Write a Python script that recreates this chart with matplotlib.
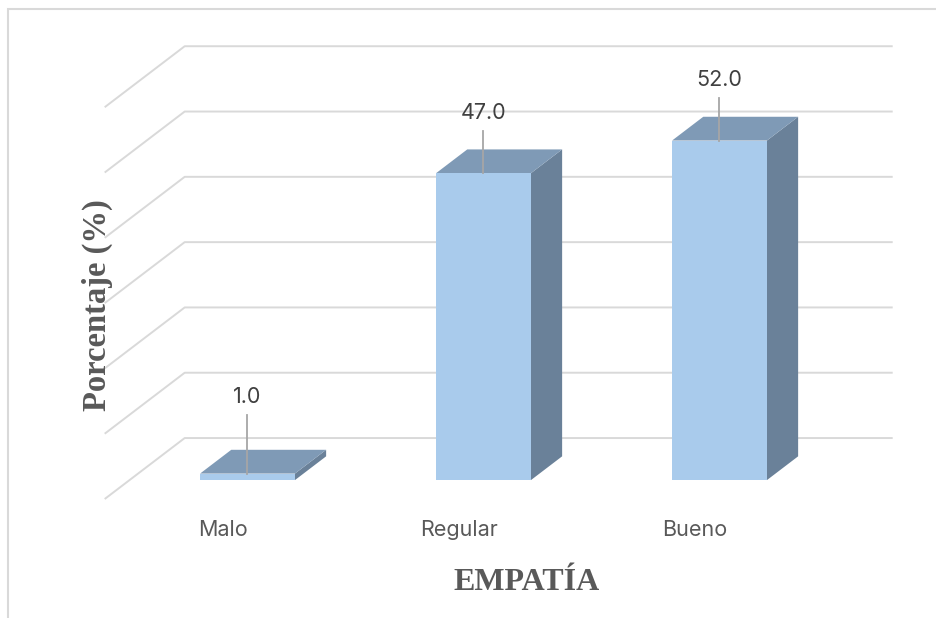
import numpy as np
import matplotlib
matplotlib.use('Agg')
import matplotlib.pyplot as plt
from matplotlib.patches import Polygon, Rectangle

categories = ['Malo', 'Regular', 'Bueno']
values = [1.0, 47.0, 52.0]
grid_ticks = [0, 10, 20, 30, 40, 50, 60]
value_labels = ['1.0', '47.0', '52.0']

# fake 3d: depth offset in data units (d=0 floor front, d=1 back wall)
DX = 0.339
DY = 9.34
D_FRONT = 0.31
D_BACK = 0.70
HALF_W = 0.201
label_lift = [11.8, 9.2, 9.3]

front_col = '#A9CBEC'
top_col = '#7F9AB6'
side_col = '#6A8199'
grid_col = '#D9D9D9'
text_col = '#595959'


def proj(p, v, d):
    return (p + DX * d, v + DY * d)


fig = plt.figure(figsize=(9.36, 6.18), dpi=100)
fig.patch.set_facecolor('white')
ax = fig.add_axes([0, 0, 1, 1])
ax.set_xlim(-0.9436, 3.0225)
ax.set_ylim(-18.22, 76.42)
ax.axis('off')

# chart border
fig.patches.append(Rectangle((8 / 936, -0.05), 1.05, 1 - 9 / 618 + 0.05,
                             transform=fig.transFigure, fill=False,
                             edgecolor='#D9D9D9', lw=1.5, zorder=0))

# gridlines: side wall diagonal + back wall
for gv in grid_ticks:
    pts = [proj(-0.5, gv, 0), proj(-0.5, gv, 1), proj(2.5, gv, 1)]
    xs, ys = zip(*pts)
    ax.plot(xs, ys, color=grid_col, lw=1.4, zorder=1, solid_capstyle='butt')

for i, (cat, v) in enumerate(zip(categories, values)):
    p = i
    l, r = p - HALF_W, p + HALF_W
    front = [proj(l, 0, D_FRONT), proj(r, 0, D_FRONT), proj(r, v, D_FRONT), proj(l, v, D_FRONT)]
    top = [proj(l, v, D_FRONT), proj(r, v, D_FRONT), proj(r, v, D_BACK), proj(l, v, D_BACK)]
    side = [proj(r, 0, D_FRONT), proj(r, 0, D_BACK), proj(r, v, D_BACK), proj(r, v, D_FRONT)]
    ax.add_patch(Polygon(side, closed=True, facecolor=side_col, edgecolor='none', zorder=3))
    ax.add_patch(Polygon(top, closed=True, facecolor=top_col, edgecolor='none', zorder=3))
    ax.add_patch(Polygon(front, closed=True, facecolor=front_col, edgecolor='none', zorder=4))

    # data label with leader line
    x0, y0 = proj(p, v, D_FRONT)
    ax.plot([x0, x0], [y0, y0 + label_lift[i] - 2.8], color='#A6A6A6', lw=1.3, zorder=5)
    ax.text(x0, y0 + label_lift[i], value_labels[i], ha='center', va='center',
            fontsize=15.5, color='#404040', family='Inter', zorder=6)

    # category label on floor front
    ax.text(p, -4.75, cat, ha='center', va='center', fontsize=15.5,
            color=text_col, family='Inter')

fig.text(527 / 936, 1 - 583 / 618, 'EMPATÍA', ha='center', va='center',
         fontsize=23, fontweight='bold', color=text_col, family='Liberation Serif')
fig.text(97 / 936, 1 - 305 / 618, 'Porcentaje (%)', ha='center', va='center',
         rotation=90, fontsize=23.5, fontweight='bold', color=text_col,
         family='Liberation Serif')

fig.savefig('out.png', dpi=100, facecolor='white')
